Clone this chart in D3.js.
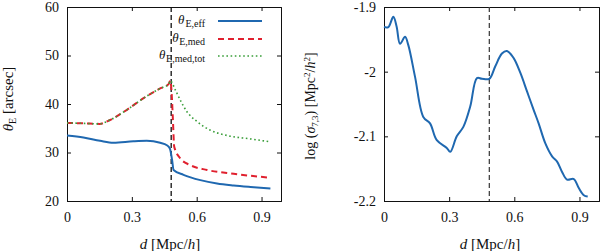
<!DOCTYPE html>
<html><head><meta charset="utf-8">
<script src="https://cdn.jsdelivr.net/npm/d3@7"></script>
<style>
body{margin:0;background:#fff;}
svg{display:block;font-family:"Liberation Serif","DejaVu Serif",serif;}
</style></head><body>
<svg id="c" width="600" height="251"></svg>
<script>
// ---- data ----
const xTicks = [0, 0.3, 0.6, 0.9];
const xTickLabels = ["0", "0.3", "0.6", "0.9"];
const leftYTicks = [20, 30, 40, 50, 60];
const leftYTickLabels = ["20", "30", "40", "50", "60"];
const rightYTicks = [-2.2, -2.1, -2.0, -1.9];
const rightYTickLabels = ["-2.2", "-2.1", "-2", "-1.9"];
const dCut = 0.482;

const effD   = [0, 0.076, 0.153, 0.215, 0.307, 0.369, 0.431, 0.462, 0.476, 0.486, 0.493, 0.539, 0.617, 0.694, 0.771, 0.849, 0.941];
const effV   = [33.5, 33.1, 32.4, 32.0, 32.3, 32.4, 32.0, 31.5, 30.8, 28.5, 26.4, 25.4, 24.3, 23.6, 23.2, 22.9, 22.6];

const medD   = [0, 0.08, 0.150, 0.199, 0.277, 0.354, 0.431, 0.470, 0.478, 0.485, 0.490, 0.496, 0.524, 0.570, 0.648, 0.771, 0.941];
const medV   = [36.1, 36.0, 35.9, 36.7, 38.8, 41.2, 43.2, 44.1, 44.8, 41.5, 36.7, 31.2, 28.8, 27.4, 26.4, 25.6, 24.8];

const totD   = [0, 0.08, 0.150, 0.199, 0.277, 0.354, 0.431, 0.470, 0.478, 0.501, 0.524, 0.555, 0.601, 0.663, 0.741, 0.849, 0.941];
const totV   = [36.1, 36.0, 35.9, 36.7, 38.8, 41.2, 43.2, 44.1, 44.8, 42.9, 40.8, 38.4, 36.4, 34.6, 33.5, 32.8, 32.2];

const sigD = [0, 0.02, 0.043, 0.058, 0.074, 0.097, 0.112, 0.143, 0.181, 0.212, 0.243, 0.289, 0.305, 0.335, 0.366, 0.397, 0.428, 0.451, 0.485, 0.512, 0.543, 0.566, 0.597, 0.628, 0.659, 0.689, 0.712, 0.743, 0.774, 0.797, 0.820, 0.843, 0.874, 0.897, 0.920, 0.938];
const sigV = [-1.931, -1.931, -1.915, -1.930, -1.957, -1.946, -1.959, -2.008, -2.070, -2.080, -2.106, -2.118, -2.124, -2.100, -2.085, -2.054, -2.010, -2.011, -2.011, -1.992, -1.972, -1.968, -1.979, -2.002, -2.031, -2.059, -2.080, -2.111, -2.131, -2.139, -2.155, -2.167, -2.166, -2.180, -2.191, -2.193];

const seriesNames = ["E,eff", "E,med", "E,med,tot"];
const colBlue = "#1f68b0", colRed = "#e0202e", colGreen = "#3a9e3a";

// ---- drawing ----
const svg = d3.select("#c");
const fs = 14;

function panel(x, y, yTicks, yLabels) {
  const g = svg.append("g");
  const [x0, x1] = x.range(), [y0, y1] = y.range();
  g.append("g").attr("transform", `translate(0,${y0})`)
    .call(d3.axisBottom(x).tickValues(xTicks).tickSize(-4).tickPadding(11)
      .tickFormat((d, i) => xTickLabels[i]));
  g.append("g").attr("transform", `translate(0,${y1})`)
    .call(d3.axisTop(x).tickValues(xTicks).tickSize(-4).tickFormat(""));
  g.append("g").attr("transform", `translate(${x0},0)`)
    .call(d3.axisLeft(y).tickValues(yTicks).tickSize(-4).tickPadding(8)
      .tickFormat((d, i) => yLabels[i]));
  g.append("g").attr("transform", `translate(${x1},0)`)
    .call(d3.axisRight(y).tickValues(yTicks).tickSize(-4).tickFormat(""));
  g.selectAll(".domain").attr("stroke", "#111").attr("stroke-width", 1);
  g.selectAll(".tick line").attr("stroke", "#111");
  g.selectAll("text").attr("font-size", fs).attr("font-family", "Liberation Serif, DejaVu Serif, serif").attr("fill", "#111");
  return g;
}

// Left panel
const xL = d3.scaleLinear([0, 0.99], [67, 281]);
const yL = d3.scaleLinear([20, 60], [201, 7]);
panel(xL, yL, leftYTicks, leftYTickLabels);

svg.append("defs").append("clipPath").attr("id", "clipL")
  .append("rect").attr("x", 67).attr("y", 7).attr("width", 214).attr("height", 194);

const lineL = (D, V) => d3.line().x((d, i) => xL(D[i])).y((d, i) => yL(V[i])).curve(d3.curveMonotoneX)(D);

const gl = svg.append("g").attr("clip-path", "url(#clipL)");
gl.append("line").attr("x1", xL(dCut)).attr("x2", xL(dCut)).attr("y1", yL(60)).attr("y2", yL(20))
  .attr("stroke", "#111").attr("stroke-width", 1.3).attr("stroke-dasharray", "5,3");
gl.append("path").attr("d", lineL(effD, effV)).attr("fill", "none").attr("stroke", colBlue).attr("stroke-width", 2);
gl.append("path").attr("d", lineL(medD, medV)).attr("fill", "none").attr("stroke", colRed).attr("stroke-width", 2).attr("stroke-dasharray", "6,4");
gl.append("path").attr("d", lineL(totD, totV)).attr("fill", "none").attr("stroke", colGreen).attr("stroke-width", 1.6).attr("stroke-dasharray", "1.6,2.6");

// legend
const legY = [21, 39, 56];
const legStyles = [
  {c: colBlue, w: 2, da: null},
  {c: colRed, w: 2, da: "6,4"},
  {c: colGreen, w: 1.6, da: "1.6,2.6"}
];
seriesNames.forEach((n, i) => {
  const sub = svg.append("text").attr("x", 205).attr("y", legY[i] + 6).attr("text-anchor", "end")
    .attr("font-size", 10).attr("fill", "#111").text(n);
  const w = sub.node().getBBox().width;
  svg.append("text").attr("x", 205 - w - 0.5).attr("y", legY[i] + 3).attr("text-anchor", "end")
    .attr("font-size", 13).attr("font-style", "italic").attr("fill", "#111").text("θ");
  svg.append("line").attr("x1", 218).attr("x2", 262).attr("y1", legY[i]).attr("y2", legY[i])
    .attr("stroke", legStyles[i].c).attr("stroke-width", legStyles[i].w)
    .attr("stroke-dasharray", legStyles[i].da);
});

// left axis titles
const xlabL = svg.append("text").attr("x", 170).attr("y", 249).attr("text-anchor", "middle").attr("font-size", 15).attr("fill", "#111");
xlabL.append("tspan").attr("font-style", "italic").text("d");
xlabL.append("tspan").text(" [Mpc/");
xlabL.append("tspan").attr("font-style", "italic").text("h");
xlabL.append("tspan").text("]");

const ylabL = svg.append("text").attr("transform", "translate(13,99) rotate(-90)").attr("text-anchor", "middle").attr("font-size", 15).attr("fill", "#111");
ylabL.append("tspan").attr("font-style", "italic").text("θ");
ylabL.append("tspan").attr("font-size", 10).attr("dy", 3).text("E");
ylabL.append("tspan").attr("dy", -3).text(" [arcsec]");

// Right panel
const xR = d3.scaleLinear([0, 0.99], [384, 599]);
const yR = d3.scaleLinear([-2.2, -1.9], [201, 7]);
panel(xR, yR, rightYTicks, rightYTickLabels);

svg.append("line").attr("x1", xR(0.485)).attr("x2", xR(0.485)).attr("y1", yR(-1.9)).attr("y2", yR(-2.2))
  .attr("stroke", "#444").attr("stroke-width", 1.3).attr("stroke-dasharray", "5,3");
svg.append("path")
  .attr("d", d3.line().x((d, i) => xR(sigD[i])).y((d, i) => yR(sigV[i])).curve(d3.curveCatmullRom.alpha(0.5))(sigD))
  .attr("fill", "none").attr("stroke", colBlue).attr("stroke-width", 2);

const xlabR = svg.append("text").attr("x", 490).attr("y", 249).attr("text-anchor", "middle").attr("font-size", 15).attr("fill", "#111");
xlabR.append("tspan").attr("font-style", "italic").text("d");
xlabR.append("tspan").text(" [Mpc/");
xlabR.append("tspan").attr("font-style", "italic").text("h");
xlabR.append("tspan").text("]");

const ylabR = svg.append("text").attr("transform", "translate(315,106) rotate(-90)").attr("text-anchor", "middle").attr("font-size", 14).attr("fill", "#111");
ylabR.append("tspan").text("log (");
ylabR.append("tspan").attr("font-style", "italic").text("σ");
ylabR.append("tspan").attr("font-size", 9).attr("dy", 3).text("7,3");
ylabR.append("tspan").attr("dy", -3).text(") [Mpc");
ylabR.append("tspan").attr("font-size", 9).attr("dy", -5).text("2");
ylabR.append("tspan").attr("dy", 5).text("/");
ylabR.append("tspan").attr("font-style", "italic").text("h");
ylabR.append("tspan").attr("font-size", 9).attr("dy", -5).text("2");
ylabR.append("tspan").attr("dy", 5).text("]");
</script></body></html>
